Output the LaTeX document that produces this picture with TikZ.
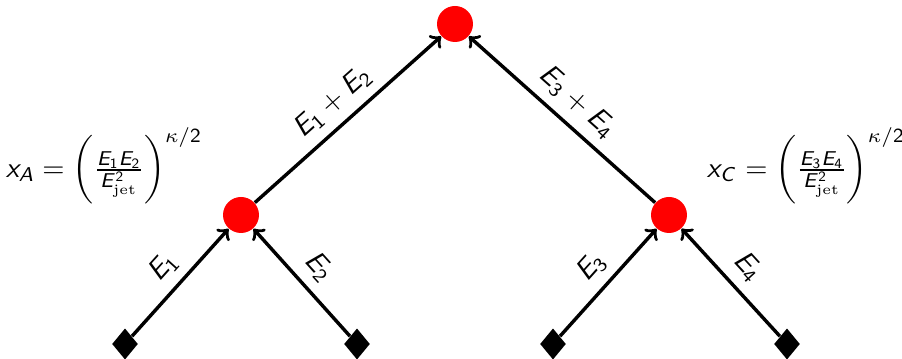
\documentclass[tikz,border=0pt]{standalone}
\usepackage{amsmath}
\usetikzlibrary{shapes.geometric}
\DeclareMathAlphabet{\mathsfit}{OT1}{cmss}{m}{sl}
\newcommand{\sE}{\mathsfit{E}}
\newcommand{\sd}[1]{\mathsf{#1}}
\begin{document}
\begin{tikzpicture}[x=0.35pt,y=-0.35pt,
  inner/.style={circle, fill=red, minimum size=12.6pt, inner sep=0pt},
  leaf/.style={diamond, fill=black, minimum width=9.1pt, minimum height=11pt, inner sep=0pt},
  edge/.style={->, line width=1.2pt},
  lab/.style={midway, sloped, above},
  formula/.style={}]
\useasboundingbox (0,0) rectangle (902,359);
\node[inner] (r) at (455,24) {};
\node[inner] (a) at (241,215) {};
\node[inner] (c) at (669,215) {};
\node[leaf] (l1) at (125,344) {};
\node[leaf] (l2) at (357,344) {};
\node[leaf] (l3) at (553,344) {};
\node[leaf] (l4) at (787,344) {};
\draw[edge] (l1) -- node[lab] {$\sE_{\sd{1}}$} (a);
\draw[edge] (l2) -- node[lab] {$\sE_{\sd{2}}$} (a);
\draw[edge] (l3) -- node[lab] {$\sE_{\sd{3}}$} (c);
\draw[edge] (l4) -- node[lab] {$\sE_{\sd{4}}$} (c);
\draw[edge] (a) -- node[lab] {$\sE_{\sd{1}} + \sE_{\sd{2}}$} (r);
\draw[edge] (c) -- node[lab] {$\sE_{\sd{3}} + \sE_{\sd{4}}$} (r);
\node[formula] (xa) at (104,166) {$\mathsfit{x}_{\mathsfit{A}} = \biggl(\frac{\sE_{\sd{1}}\sE_{\sd{2}}}{\sE_{\text{jet}}^{\sd{2}}}\biggr)^{\kappa/\sd{2}}$};
\node[formula] (xc) at (806,166) {$\mathsfit{x}_{\mathsfit{C}} = \biggl(\frac{\sE_{\sd{3}}\sE_{\sd{4}}}{\sE_{\text{jet}}^{\sd{2}}}\biggr)^{\kappa/\sd{2}}$};
\end{tikzpicture}
\end{document}
